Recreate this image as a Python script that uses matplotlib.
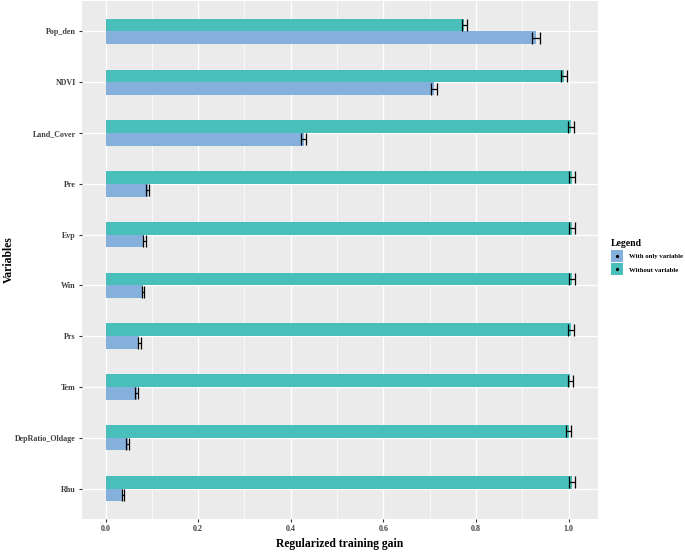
import matplotlib
matplotlib.use("Agg")
import matplotlib.pyplot as plt
import numpy as np
from matplotlib.patches import Patch, Rectangle
from matplotlib.lines import Line2D
from matplotlib.legend_handler import HandlerBase

plt.rcParams['font.family'] = ['Liberation Serif', 'DejaVu Serif']

variables = ["Pop_den", "NDVI", "Land_Cover", "Pre", "Evp", "Win", "Prs", "Tem", "DepRatio_Oldage", "Rhu"]
without_var = [0.775, 0.990, 1.005, 1.007, 1.008, 1.008, 1.005, 1.004, 1.000, 1.007]
without_err = [0.006, 0.006, 0.006, 0.006, 0.006, 0.006, 0.006, 0.006, 0.006, 0.006]
with_only = [0.930, 0.710, 0.428, 0.091, 0.084, 0.081, 0.073, 0.067, 0.048, 0.037]
with_err = [0.008, 0.007, 0.006, 0.003, 0.003, 0.003, 0.003, 0.003, 0.003, 0.002]
xticks = [0.0, 0.2, 0.4, 0.6, 0.8, 1.0]
xtick_labels = ["0.0", "0.2", "0.4", "0.6", "0.8", "1.0"]
legend_labels = ["With only variable", "Without variable"]

c_blue = "#85B0DB"
c_teal = "#48BFBA"

fig = plt.figure(figsize=(6.85, 5.52), dpi=100)
ax = fig.add_axes([82/685, 1-519/552, (598-82)/685, 518/552])
ax.set_facecolor("#EBEBEB")

n = len(variables)
pos = np.arange(n)[::-1] + 1.0
h = 0.25
ax.barh(pos + h/2, without_var, height=h, color=c_teal, zorder=2)
ax.barh(pos - h/2, with_only, height=h, color=c_blue, zorder=2)
ax.errorbar(without_var, pos + h/2, xerr=without_err, fmt='none', ecolor='black',
            elinewidth=0.9, capsize=4.2, capthick=0.9, zorder=3)
ax.errorbar(with_only, pos - h/2, xerr=with_err, fmt='none', ecolor='black',
            elinewidth=0.9, capsize=4.2, capthick=0.9, zorder=3)

ax.set_xlim(-0.0508, 1.0637)
ax.set_ylim(0.4, n + 0.6)
ax.set_xticks(xticks)
ax.set_xticklabels(xtick_labels)
ax.set_xticks([0.1, 0.3, 0.5, 0.7, 0.9], minor=True)
ax.set_yticks(pos)
ax.set_yticklabels(variables)
ax.grid(True, which='major', color='white', linewidth=1.0, zorder=0)
ax.grid(True, which='minor', axis='x', color='white', linewidth=0.5, zorder=0)
ax.set_axisbelow(True)
for s in ax.spines.values():
    s.set_visible(False)
ax.tick_params(axis='both', which='major', length=2.5, width=0.8, color='#333333',
               labelsize=5.8, labelcolor='#3F3F3F', pad=2)
ax.tick_params(axis='both', which='minor', length=0)
for lab in ax.get_xticklabels() + ax.get_yticklabels():
    lab.set_fontweight('bold')

ax.set_xlabel("Regularized training gain", fontsize=8.4, fontweight='bold')
ax.xaxis.set_label_coords(0.5, 1 - (544 - 1) / 518, transform=ax.transAxes)
ax.xaxis.label.set_va('center')
ax.set_ylabel("Variables", fontsize=8.4, fontweight='bold')
ax.yaxis.set_label_coords((9 - 82) / 516, 0.5, transform=ax.transAxes)
ax.yaxis.label.set_va('center')


class KeyHandler(HandlerBase):
    def __init__(self, color):
        super().__init__()
        self.color = color

    def create_artists(self, legend, orig_handle, xdescent, ydescent, width, height, fontsize, trans):
        s = min(width, height)
        x0 = (width - s) / 2 - xdescent
        y0 = (height - s) / 2 - ydescent
        r = Rectangle((x0, y0), s, s, facecolor=self.color, edgecolor='none', transform=trans)
        d = Line2D([x0 + s/2], [y0 + s/2], marker='o', markersize=1.3, color='black',
                   linestyle='none', transform=trans)
        return [r, d]


h1 = Patch(color=c_blue)
h2 = Patch(color=c_teal)
leg = fig.legend([h1, h2], legend_labels, loc='upper left', bbox_to_anchor=(611/685, 1-239/552),
                 frameon=False, title="Legend",
                 handler_map={h1: KeyHandler(c_blue), h2: KeyHandler(c_teal)},
                 prop={'size': 4.9, 'weight': 'bold'}, handlelength=1.76, handleheight=2.34,
                 handletextpad=0.95, labelspacing=0.25, borderaxespad=0, borderpad=0)
leg.get_title().set_fontsize(7.0)
leg.get_title().set_fontweight('bold')
leg._legend_box.align = "left"

fig.savefig("out.png", dpi=100)
